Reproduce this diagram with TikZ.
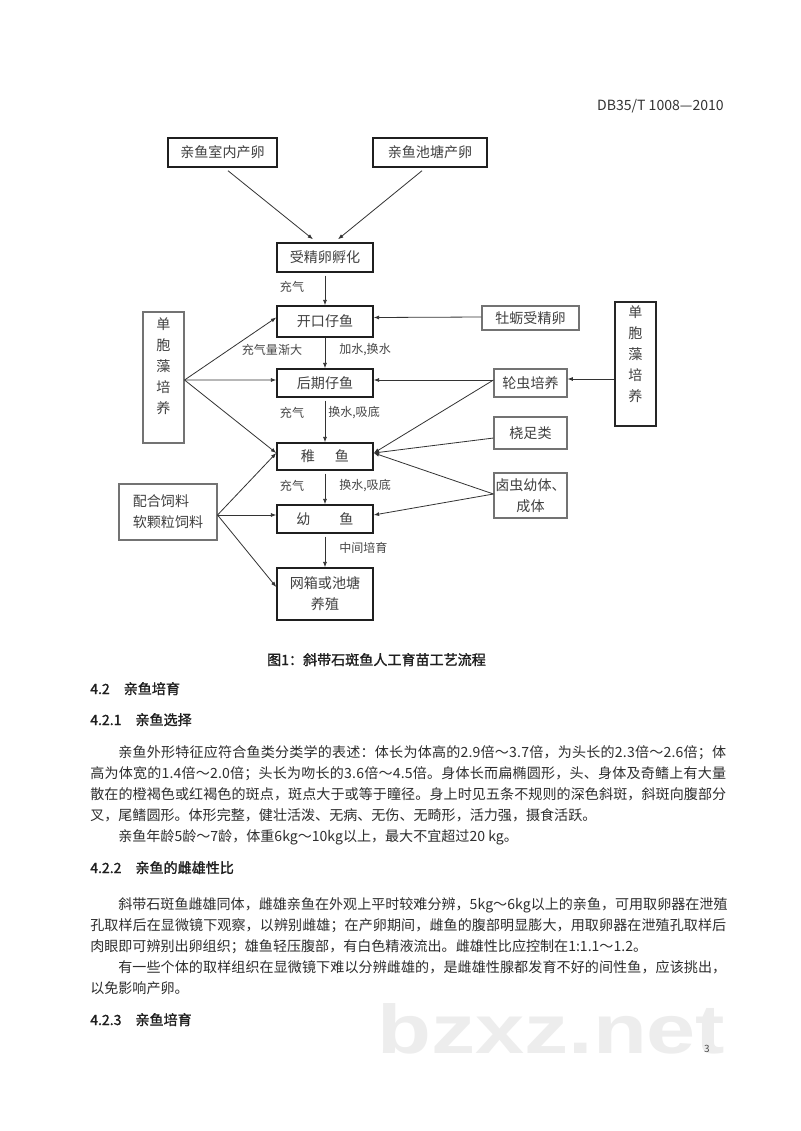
\documentclass[tikz,border=0pt]{standalone}
\usepackage{fontspec}
\usepackage{graphicx}
\setmainfont{Noto Sans CJK SC}
\newfontfamily\heiti{Noto Sans CJK SC}[FakeBold=1.5]
\newfontfamily\wmfont{Liberation Sans}
\usetikzlibrary{arrows.meta,calc}
\newlength\ppx
\setlength\ppx{0.2625mm}
% spread the characters of a line so that it fills a given width
\makeatletter
\def\spreadtext#1{\spr@first#1\@nil}
\def\spr@first#1{#1\spr@next}
\def\spr@next#1{\ifx#1\@nil\else\hskip 0pt plus 1pt\relax#1\expandafter\spr@next\fi}
\makeatother
\newcommand\jline[2]{\makebox[#1\ppx][s]{\spreadtext{#2}}}
\tikzset{
  boxtxt/.style={font=\fontsize{10.5pt}{15.7pt}\selectfont, text=black!75, inner sep=0pt},
  mainbox/.style={boxtxt, draw=black!88, line width=1.1pt},
  sidebox/.style={boxtxt, draw=black!55, line width=0.8pt},
  thickbox/.style={boxtxt, draw=black!85, line width=1.5pt},
  arr/.style={draw=black!80, line width=0.6pt, -{Latex[length=4pt,width=3pt]}},
  lbl/.style={font=\fontsize{9pt}{11pt}\selectfont, text=black!72, inner sep=0pt},
  body/.style={font=\fontsize{10.5pt}{14pt}\selectfont, text=black!82, inner sep=0pt, anchor=base west},
  head/.style={font=\heiti\fontsize{10.5pt}{14pt}\selectfont, text=black!88, inner sep=0pt, anchor=base west},
}
\begin{document}
\begin{tikzpicture}[x=\ppx,y=-\ppx]
\fill[white] (0,0) rectangle (800,1131);
\useasboundingbox (0,0) rectangle (800,1131);

% watermark
\node[anchor=base west, text=black!7, inner sep=0pt] (wm) at (377,1053) {\resizebox{348\ppx}{50\ppx}{\wmfont\bfseries bzxz.net}};

% header
\node[body, anchor=base east, text=black!80] (hdr) at (724,110) {DB35/T 1008—2010};

% flowchart boxes
\node[mainbox, minimum width=109\ppx, minimum height=29\ppx] (b1) at (222.5,152.5) {亲鱼室内产卵};
\node[mainbox, minimum width=114\ppx, minimum height=29\ppx] (b2) at (430,152.5) {亲鱼池塘产卵};
\node[mainbox, minimum width=96\ppx, minimum height=29\ppx] (egg) at (325,257.5) {受精卵孵化};
\node[mainbox, minimum width=96\ppx, minimum height=31\ppx] (kk) at (325,321.5) {开口仔鱼};
\node[mainbox, minimum width=96\ppx, minimum height=28\ppx] (hq) at (325,383) {后期仔鱼};
\node[mainbox, minimum width=96\ppx, minimum height=27\ppx] (zy) at (325,456.5) {稚\hspace{20\ppx}鱼};
\node[mainbox, minimum width=96\ppx, minimum height=28\ppx] (yy) at (325,519) {幼\hspace{29\ppx}鱼};
\node[mainbox, minimum width=96\ppx, minimum height=52\ppx, align=center] (wx) at (325,594) {网箱或池塘\\养殖};

\node[sidebox, minimum width=41\ppx, minimum height=131\ppx] (algL) at (163.5,377.5) {};
\node[boxtxt, align=center, anchor=north] (algLt) at ($(algL.north)+(0,6)$) {单\\胞\\藻\\培\\养};
\node[thickbox, minimum width=41\ppx, minimum height=124\ppx] (algR) at (635.5,364) {};
\node[boxtxt, align=center, anchor=north] (algRt) at ($(algR.north)+(0,4)$) {单\\胞\\藻\\培\\养};

\node[sidebox, minimum width=97\ppx, minimum height=24\ppx] (ml) at (530.5,318) {牡蛎受精卵};
\node[sidebox, minimum width=73\ppx, minimum height=28\ppx] (lc) at (530.5,383) {轮虫培养};
\node[sidebox, minimum width=73\ppx, minimum height=32\ppx] (rz) at (530.5,433) {桡足类};
\node[sidebox, minimum width=73\ppx, minimum height=45\ppx, align=center] (lcy) at (530.5,495.5) {卤虫幼体、\\成体};
\node[sidebox, minimum width=98\ppx, minimum height=56\ppx, align=left] (ph) at (168,512) {配合饲料\\软颗粒饲料};

% connectors
\draw[arr] ($(b1.south)+(5.5,3)$) -- ($(egg.north)+(-12,-3)$);
\draw[arr] ($(b2.south)+(-8,3)$) -- ($(egg.north)+(13,-3)$);
\draw[arr] ($(egg.south)+(0,3)$) -- (kk.north);
\draw[arr] (kk.south) -- (hq.north);
\draw[arr] ($(hq.south)+(0,3)$) -- (zy.north);
\draw[arr] ($(zy.south)+(0,3)$) -- (yy.north);
\draw[arr] ($(yy.south)+(0,3)$) -- (wx.north);

\coordinate (hubL) at ($(algL.east)+(0,2.5)$);
\draw[arr] (hubL) -- ($(kk.west)+(0,-4)$);
\draw[arr] (hubL) -- ($(hq.west)+(0,-3)$);
\draw[arr] (hubL) -- ($(zy.west)+(0,-3.5)$);

\coordinate (hubP) at ($(ph.east)+(0,3)$);
\draw[arr] (hubP) -- ($(zy.west)+(0,-3.5)$);
\draw[arr] (hubP) -- ($(yy.west)+(0,-4)$);
\draw[arr] (hubP) -- ($(wx.west)+(0,-7)$);

\draw[arr] ($(ml.west)+(0,-1)$) -- ($(kk.east)+(0,-4)$);
\coordinate (hubR) at ($(lc.west)+(0,-3)$);
\draw[arr] (hubR) -- ($(hq.east)+(0,-3)$);
\draw[arr] (hubR) -- ($(zy.east)+(0,-3.5)$);
\draw[arr] ($(rz.west)+(0,5)$) -- ($(zy.east)+(0,-3.5)$);
\coordinate (hubA) at ($(lcy.west)+(0,-1.5)$);
\draw[arr] (hubA) -- ($(zy.east)+(0,-3.5)$);
\draw[arr] (hubA) -- ($(yy.east)+(0,-4)$);
\draw[arr] ($(algR.west)+(0,15)$) -- ($(lc.east)+(0,-4)$);

% connector labels
\node[lbl] (l1) at (292,287) {充气};
\node[lbl] (l2) at (272,350) {充气量渐大};
\node[lbl, anchor=west] (l3) at (339,350) {加水,换水};
\node[lbl] (l4) at (292,413) {充气};
\node[lbl, anchor=west] (l5) at (328,413) {换水,吸底};
\node[lbl] (l6) at (292,486) {充气};
\node[lbl, anchor=west] (l7) at (339,486) {换水,吸底};
\node[lbl, anchor=west] (l8) at (339,548) {中间培育};

% caption
\node[head, anchor=base] (cap) at (376.5,665) {图1：斜带石斑鱼人工育苗工艺流程};

% text
\node[head] (h1) at (90,694) {4.2\hspace{14\ppx}亲鱼培育};
\node[head] (h2) at (90,725) {4.2.1\hspace{14\ppx}亲鱼选择};
\node[body] (p1a) at (118,757) {\jline{608}{亲鱼外形特征应符合鱼类分类学的表述：体长为体高的2.9倍～3.7倍，为头长的2.3倍～2.6倍；体}};
\node[body] (p1b) at (90,778) {\jline{636}{高为体宽的1.4倍～2.0倍；头长为吻长的3.6倍～4.5倍。身体长而扁椭圆形，头、身体及奇鳍上有大量}};
\node[body] (p1c) at (90,799) {\jline{636}{散在的橙褐色或红褐色的斑点，斑点大于或等于瞳径。身上时见五条不规则的深色斜斑，斜斑向腹部分}};
\node[body] (p1d) at (90,820) {叉，尾鳍圆形。体形完整，健壮活泼、无病、无伤、无畸形，活力强，摄食活跃。};
\node[body] (p1e) at (118,841) {亲鱼年龄5龄～7龄，体重6kg～10kg以上，最大不宜超过20 kg。};
\node[head] (h3) at (90,873) {4.2.2\hspace{14\ppx}亲鱼的雌雄性比};
\node[body] (p2a) at (118,909) {\jline{608}{斜带石斑鱼雌雄同体，雌雄亲鱼在外观上平时较难分辨，5kg～6kg以上的亲鱼，可用取卵器在泄殖}};
\node[body] (p2b) at (90,930) {\jline{636}{孔取样后在显微镜下观察，以辨别雌雄；在产卵期间，雌鱼的腹部明显膨大，用取卵器在泄殖孔取样后}};
\node[body] (p2c) at (90,951) {肉眼即可辨别出卵组织；雄鱼轻压腹部，有白色精液流出。雌雄性比应控制在1:1.1～1.2。};
\node[body] (p3a) at (118,972) {\jline{608}{有一些个体的取样组织在显微镜下难以分辨雌雄的，是雌雄性腺都发育不好的间性鱼，应该挑出，}};
\node[body] (p3b) at (90,993) {以免影响产卵。};
\node[head] (h4) at (90,1025) {4.2.3\hspace{14\ppx}亲鱼培育};

% page number
\node[font=\fontsize{7.5pt}{9pt}\selectfont, text=black!70, inner sep=0pt] (pg) at (707,1049) {3};
\end{tikzpicture}
\end{document}
